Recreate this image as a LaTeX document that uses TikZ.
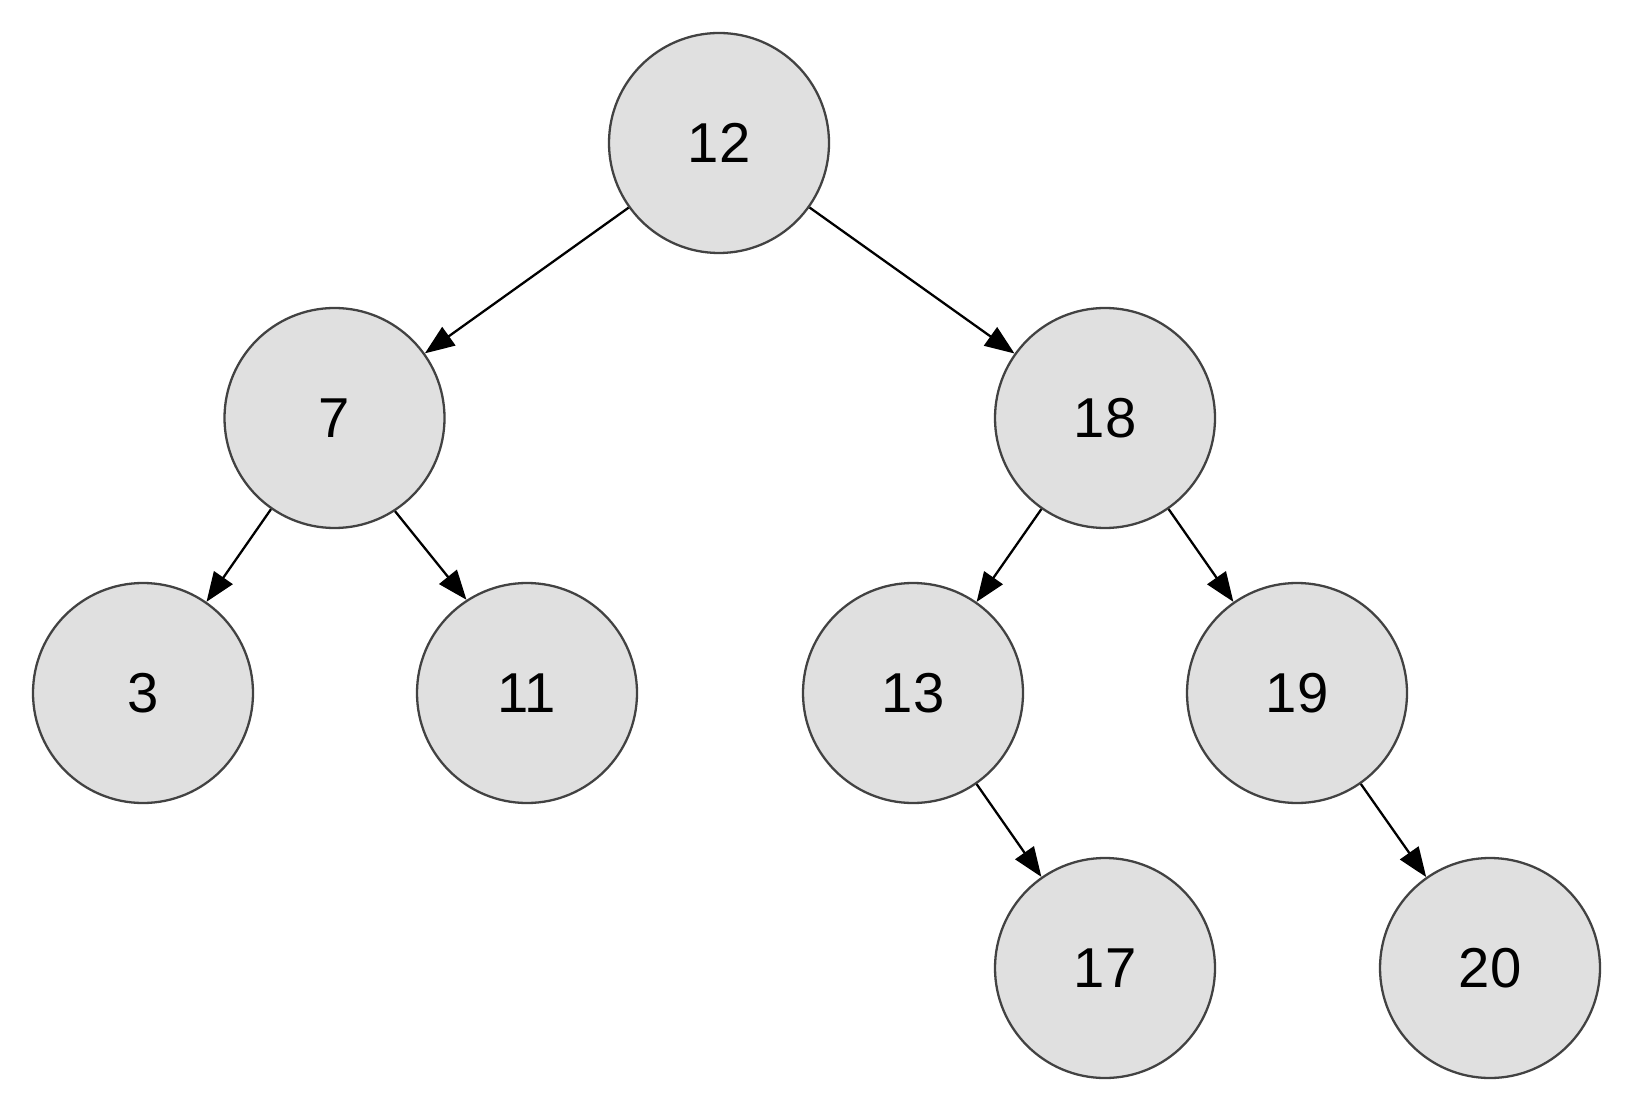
\documentclass[tikz,border=0pt]{standalone}
\usepackage{fontspec}
\setmainfont{Liberation Sans}
\usetikzlibrary{arrows.meta}
\definecolor{nodefill}{HTML}{E0E0E0}
\definecolor{nodeline}{HTML}{424242}
\tikzset{
  treenode/.style={circle, minimum size=2.2cm, inner sep=0pt, fill=nodefill, draw=nodeline, line width=0.65pt, font=\fontsize{16}{19}\selectfont},
  treeedge/.style={-{Triangle[length=8.4pt, width=6.4pt]}, line width=0.65pt, draw=black}
}
\begin{document}
\begin{tikzpicture}
\useasboundingbox (0,0) rectangle (16.34,-11.12);
% root and first level
\node[treenode] (n12) at (7.19,-1.43) {12};
\node[treenode] (n7) at (3.345,-4.18) {7};
\node[treenode] (n18) at (11.05,-4.18) {18};
% second level
\node[treenode] (n3) at (1.43,-6.93) {3};
\node[treenode] (n11) at (5.27,-6.93) {11};
\node[treenode] (n13) at (9.13,-6.93) {13};
\node[treenode] (n19) at (12.97,-6.93) {19};
% third level
\node[treenode] (n17) at (11.05,-9.68) {17};
\node[treenode] (n20) at (14.90,-9.68) {20};

\draw[treeedge] (n12) -- (n7);
\draw[treeedge] (n12) -- (n18);
\draw[treeedge] (n7) -- (n3);
\draw[treeedge] (n7.-57.4) -- (n11.123); %slightly off centre
\draw[treeedge] (n18) -- (n13);
\draw[treeedge] (n18) -- (n19);
\draw[treeedge] (n13) -- (n17); %right child only
\draw[treeedge] (n19) -- (n20);
\end{tikzpicture}
\end{document}
